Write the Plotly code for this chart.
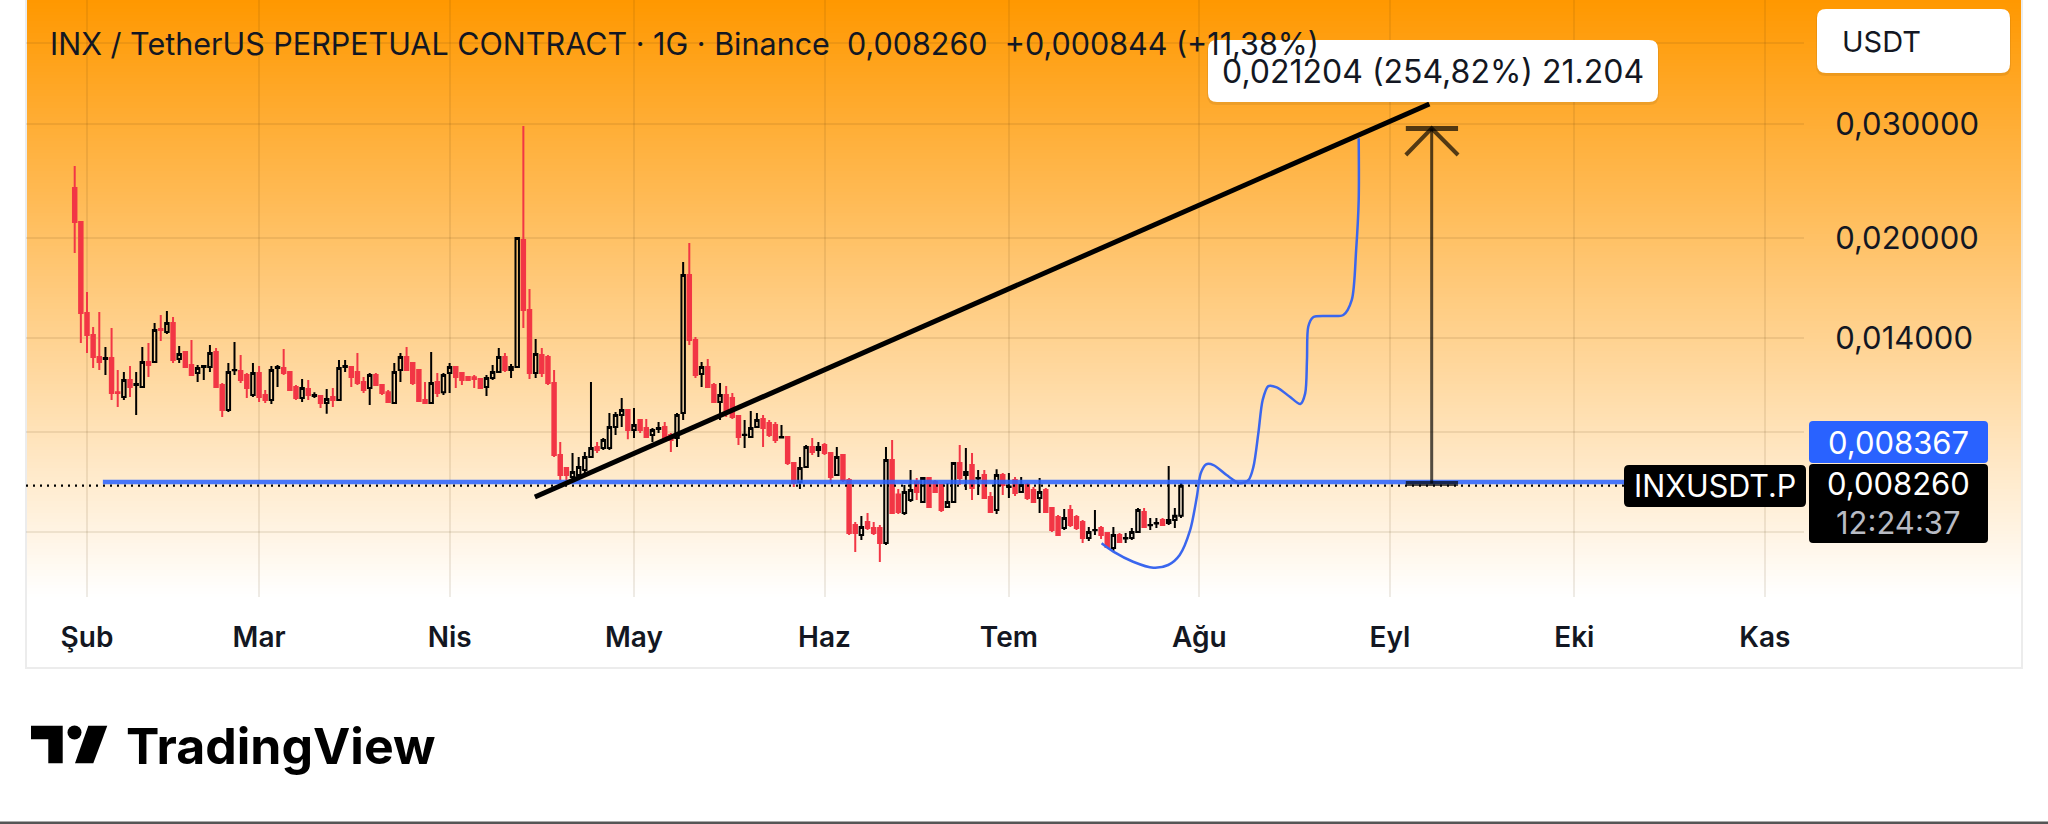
import plotly.graph_objects as go
import pandas as pd

W, H = 2048, 824

# ---------------- data ----------------
start_date = "2025-01-30"
opens = [0.02388, 0.02115, 0.01529, 0.01414, 0.01307, 0.01298, 0.01302, 0.01153, 0.01133, 0.01204,
         0.01183, 0.01174, 0.01284, 0.01284, 0.01444, 0.01429, 0.01475, 0.01298, 0.01330, 0.01270,
         0.01234, 0.01261, 0.01261, 0.01330, 0.01183, 0.01082, 0.01246, 0.01243, 0.01226, 0.01141,
         0.01234, 0.01141, 0.01121, 0.01257, 0.01257, 0.01239, 0.01174, 0.01129, 0.01166, 0.01137,
         0.01137, 0.01109, 0.01133, 0.01121, 0.01261, 0.01261, 0.01239, 0.01195, 0.01170, 0.01226,
         0.01183, 0.01153, 0.01109, 0.01248, 0.01307, 0.01279, 0.01248, 0.01121, 0.01109, 0.01195,
         0.01153, 0.01234, 0.01261, 0.01234, 0.01217, 0.01216, 0.01208, 0.01174, 0.01213, 0.01239,
         0.01307, 0.01248, 0.01261, 0.01984, 0.01545, 0.01234, 0.01316, 0.01307, 0.01191, 0.009213,
         0.008797, 0.008519, 0.008580, 0.008734, 0.009148, 0.009480, 0.009447, 0.009447, 0.010182, 0.010627,
         0.010818, 0.010073, 0.010439, 0.010146, 0.009895, 0.010110, 0.010182, 0.009895, 0.009790, 0.010703,
         0.017508, 0.013885, 0.012300, 0.012611, 0.011826, 0.011130, 0.011412, 0.011291, 0.010589, 0.009895,
         0.009825, 0.010182, 0.010477, 0.010328, 0.010254, 0.009808, 0.009825, 0.008955, 0.008368, 0.008828,
         0.009480, 0.009379, 0.009548, 0.009279, 0.008580, 0.009213, 0.008428, 0.007179, 0.006926, 0.007255,
         0.007102, 0.007102, 0.006732, 0.009051, 0.008000, 0.007492, 0.007847, 0.008368, 0.007791, 0.008488,
         0.008368, 0.008280, 0.007652, 0.007791, 0.008955, 0.008580, 0.008891, 0.008473, 0.008580, 0.007931,
         0.007572, 0.008580, 0.008222, 0.008428, 0.008074, 0.008280, 0.008132, 0.007903, 0.008132, 0.007626,
         0.007385, 0.007102, 0.007572, 0.007385, 0.007255, 0.006852, 0.007044, 0.007102, 0.006976, 0.006611,
         0.006926, 0.006840, 0.006852, 0.007001, 0.007518, 0.007170, 0.007217, 0.007307, 0.007229, 0.007307,
         0.007416]
highs = [0.02583, 0.02115, 0.01648, 0.01454, 0.01534, 0.01354, 0.01449, 0.01248, 0.01239, 0.01266,
         0.01239, 0.01354, 0.01374, 0.01475, 0.01518, 0.01540, 0.01507, 0.01359, 0.01330, 0.01389,
         0.01270, 0.01270, 0.01364, 0.01350, 0.01191, 0.01279, 0.01379, 0.01316, 0.01234, 0.01279,
         0.01266, 0.01162, 0.01266, 0.01270, 0.01345, 0.01239, 0.01183, 0.01208, 0.01204, 0.01153,
         0.01141, 0.01166, 0.01170, 0.01293, 0.01293, 0.01261, 0.01326, 0.01217, 0.01234, 0.01234,
         0.01187, 0.01162, 0.01279, 0.01326, 0.01354, 0.01284, 0.01248, 0.01195, 0.01330, 0.01234,
         0.01234, 0.01279, 0.01266, 0.01239, 0.01221, 0.01226, 0.01208, 0.01226, 0.01270, 0.01350,
         0.01326, 0.01275, 0.02005, 0.02979, 0.01666, 0.01394, 0.01350, 0.01316, 0.01248, 0.009651,
         0.008828, 0.009279, 0.009148, 0.009312, 0.01195, 0.009651, 0.009790, 0.010703, 0.010741, 0.011291,
         0.010818, 0.010895, 0.010477, 0.010477, 0.010146, 0.010365, 0.010365, 0.009966, 0.010703, 0.018339,
         0.019625, 0.014035, 0.012837, 0.012976, 0.011911, 0.011911, 0.011784, 0.011493, 0.010627, 0.010439,
         0.010779, 0.010703, 0.010627, 0.010439, 0.010365, 0.010254, 0.009860, 0.008987, 0.009148, 0.009548,
         0.009790, 0.009651, 0.009617, 0.009312, 0.009480, 0.009246, 0.008488, 0.007255, 0.007411, 0.007492,
         0.007255, 0.007179, 0.009480, 0.009720, 0.008161, 0.008280, 0.008734, 0.008488, 0.008519, 0.008519,
         0.008428, 0.008280, 0.008338, 0.008955, 0.009548, 0.009447, 0.009279, 0.008734, 0.008734, 0.008074,
         0.008760, 0.008641, 0.008641, 0.008519, 0.008519, 0.008338, 0.008222, 0.008488, 0.008192, 0.007652,
         0.007439, 0.007599, 0.007708, 0.007439, 0.007307, 0.007127, 0.007572, 0.007153, 0.007001, 0.007127,
         0.006976, 0.006976, 0.007102, 0.007626, 0.007626, 0.007359, 0.007359, 0.007359, 0.008859, 0.007626,
         0.008338]
lows = [0.01894, 0.01374, 0.01326, 0.01257, 0.01248, 0.01226, 0.01121, 0.01093, 0.01121, 0.01133,
        0.01063, 0.01174, 0.01217, 0.01284, 0.01384, 0.01419, 0.01279, 0.01279, 0.01257, 0.01226,
        0.01195, 0.01204, 0.01239, 0.01170, 0.01055, 0.01074, 0.01226, 0.01191, 0.01129, 0.01133,
        0.01113, 0.01109, 0.01105, 0.01174, 0.01226, 0.01158, 0.01121, 0.01113, 0.01121, 0.01129,
        0.01090, 0.01067, 0.01093, 0.01117, 0.01239, 0.01174, 0.01183, 0.01149, 0.01101, 0.01178,
        0.01141, 0.01109, 0.01105, 0.01195, 0.01243, 0.01183, 0.01113, 0.01105, 0.01105, 0.01133,
        0.01141, 0.01149, 0.01170, 0.01183, 0.01200, 0.01170, 0.01166, 0.01137, 0.01204, 0.01239,
        0.01239, 0.01213, 0.01257, 0.01449, 0.01208, 0.01213, 0.01217, 0.01183, 0.009148, 0.008428,
        0.008368, 0.008428, 0.008519, 0.008641, 0.009115, 0.009279, 0.009379, 0.009379, 0.009895, 0.010182,
        0.009750, 0.009790, 0.009966, 0.009790, 0.009651, 0.009966, 0.009685, 0.009312, 0.009480, 0.010439,
        0.013640, 0.012125, 0.011742, 0.011701, 0.011091, 0.010439, 0.010551, 0.010477, 0.009548, 0.009447,
        0.009790, 0.010146, 0.009480, 0.009825, 0.009617, 0.009790, 0.008891, 0.008222, 0.008161, 0.008797,
        0.009213, 0.009148, 0.009213, 0.008338, 0.008549, 0.008368, 0.006926, 0.006519, 0.006804, 0.007051,
        0.006926, 0.006291, 0.006684, 0.007465, 0.007465, 0.007439, 0.007791, 0.007847, 0.007764, 0.007652,
        0.008045, 0.007518, 0.007652, 0.007764, 0.008280, 0.008132, 0.007847, 0.007988, 0.007875, 0.007492,
        0.007465, 0.007988, 0.007903, 0.007960, 0.008045, 0.007847, 0.007764, 0.007492, 0.007492, 0.007001,
        0.006926, 0.007051, 0.007127, 0.007051, 0.006732, 0.006780, 0.006926, 0.006828, 0.006611, 0.006543,
        0.006732, 0.006732, 0.006804, 0.006976, 0.007127, 0.007051, 0.007102, 0.007153, 0.007179, 0.007102,
        0.007359]
closes = [0.02115, 0.01529, 0.01414, 0.01307, 0.01284, 0.01302, 0.01149, 0.01149, 0.01204, 0.01174,
          0.01187, 0.01284, 0.01270, 0.01439, 0.01439, 0.01475, 0.01293, 0.01321, 0.01261, 0.01226,
          0.01257, 0.01266, 0.01326, 0.01174, 0.01082, 0.01239, 0.01248, 0.01204, 0.01170, 0.01234,
          0.01133, 0.01121, 0.01248, 0.01261, 0.01234, 0.01162, 0.01129, 0.01170, 0.01141, 0.01141,
          0.01109, 0.01125, 0.01121, 0.01257, 0.01266, 0.01217, 0.01191, 0.01162, 0.01226, 0.01183,
          0.01149, 0.01113, 0.01239, 0.01307, 0.01248, 0.01191, 0.01117, 0.01109, 0.01191, 0.01149,
          0.01226, 0.01261, 0.01217, 0.01204, 0.01204, 0.01208, 0.01170, 0.01213, 0.01239, 0.01307,
          0.01248, 0.01261, 0.01998, 0.01545, 0.01234, 0.01321, 0.01234, 0.01191, 0.009213, 0.008580,
          0.008580, 0.008672, 0.008828, 0.009148, 0.009447, 0.009379, 0.009720, 0.010182, 0.010627, 0.010818,
          0.010073, 0.010254, 0.010073, 0.009825, 0.010073, 0.010146, 0.009720, 0.009720, 0.010627, 0.017508,
          0.013885, 0.012256, 0.012611, 0.011742, 0.011130, 0.011412, 0.010703, 0.010551, 0.009825, 0.009905,
          0.010146, 0.010439, 0.010146, 0.009895, 0.009720, 0.009825, 0.008955, 0.008338, 0.008797, 0.009480,
          0.009312, 0.009480, 0.009279, 0.008519, 0.009148, 0.008428, 0.006976, 0.006976, 0.007127, 0.007102,
          0.006976, 0.006732, 0.009051, 0.007492, 0.007520, 0.008074, 0.008132, 0.008074, 0.008488, 0.007652,
          0.008074, 0.007572, 0.007791, 0.008955, 0.008488, 0.008672, 0.008192, 0.008488, 0.007903, 0.007518,
          0.008580, 0.008280, 0.008237, 0.008045, 0.008280, 0.007903, 0.007791, 0.008074, 0.007518, 0.007051,
          0.006926, 0.007359, 0.007179, 0.007102, 0.006852, 0.007001, 0.007051, 0.006926, 0.006634, 0.006926,
          0.006756, 0.006852, 0.007001, 0.007572, 0.007127, 0.007179, 0.007229, 0.007179, 0.007307, 0.007416,
          0.008260]
dates = pd.date_range(start_date, periods=len(opens), freq="D")

month_ticks = ["2025-02-01", "2025-03-01", "2025-04-01", "2025-05-01", "2025-06-01",
               "2025-07-01", "2025-08-01", "2025-09-01", "2025-10-01", "2025-11-01"]
month_labels = ["Şub", "Mar", "Nis", "May", "Haz", "Tem", "Ağu", "Eyl", "Eki", "Kas"]

# 0,007 / 0,010 / 0,040 sit behind the price-scale label boxes, so only their grid lines show
price_ticks = [0.007, 0.010, 0.014, 0.020, 0.030, 0.040]
price_tick_labels = ["", "", "0,014000", "0,020000", "0,030000", ""]

x_range = ["2025-01-22 01:48", "2025-11-07 08:53"]
y_range_log10 = [-2.25549, -1.33083]

trend_x = ["2025-04-14 21:00", "2025-09-07 10:00"]
trend_y = [0.007932, 0.03222]

level_x = ["2025-02-03 14:00", "2025-10-10 00:00"]
level_y = [0.008367, 0.008367]

last_price = 0.00826
last_x = [x_range[0], "2025-10-10 00:00"]

path_x = ["2025-07-16 02:00", "2025-07-18 00:00", "2025-07-21 05:00", "2025-07-24 12:00",
          "2025-07-26 22:00", "2025-07-28 19:00", "2025-07-30 12:00", "2025-07-31 14:00",
          "2025-08-01 05:00", "2025-08-02 02:00", "2025-08-03 07:00", "2025-08-05 10:00",
          "2025-08-07 14:00", "2025-08-09 00:00", "2025-08-09 19:00", "2025-08-10 14:00",
          "2025-08-11 07:00", "2025-08-12 05:00", "2025-08-13 14:00", "2025-08-15 17:00",
          "2025-08-17 10:00", "2025-08-18 05:00", "2025-08-18 12:00", "2025-08-18 17:00",
          "2025-08-19 12:00", "2025-08-21 17:00", "2025-08-24 10:00", "2025-08-25 19:00",
          "2025-08-26 12:00", "2025-08-26 22:00", "2025-08-26 22:00"]
path_y = [0.006726, 0.006527, 0.006297, 0.006164, 0.006224, 0.006451, 0.007053, 0.00794,
          0.00863, 0.008913, 0.00889, 0.00858, 0.008329, 0.00843, 0.008838, 0.009954,
          0.01121, 0.01178, 0.01173, 0.01134, 0.01105, 0.01148, 0.01293, 0.01456,
          0.01506, 0.01513, 0.01518, 0.01602, 0.01914, 0.02288, 0.02851]

range_x = "2025-09-07 19:00"
range_lo = 0.008321
range_hi = 0.029525
range_bar_x = ["2025-09-03 14:00", "2025-09-12 02:00"]
arrow_wing_y = 0.02686

title_text = ("INX / TetherUS PERPETUAL CONTRACT · 1G · Binance\u00a0\u00a0"
              "0,008260\u00a0\u00a0+0,000844 (+11,38%)")
range_label = "0,021204 (254,82%) 21.204"

# ---------------- styling helpers ----------------
FONT = "Inter"
INK = "#131722"
RED = "#F23645"
BLUE = "#2962FF"


def px(x):
    return x / W


def py(y):
    return 1 - y / H


def rrect(x0, y0, x1, y1, r):
    def P(a, b):
        return f"{px(a):.6f},{py(b):.6f}"
    return (f"M{P(x0 + r, y0)} L{P(x1 - r, y0)} Q{P(x1, y0)} {P(x1, y0 + r)} "
            f"L{P(x1, y1 - r)} Q{P(x1, y1)} {P(x1 - r, y1)} L{P(x0 + r, y1)} "
            f"Q{P(x0, y1)} {P(x0, y1 - r)} L{P(x0, y0 + r)} Q{P(x0, y0)} {P(x0 + r, y0)} Z")


def poly(points):
    s = "M" + " L".join(f"{px(a):.6f},{py(b):.6f}" for a, b in points)
    return s + " Z"


fig = go.Figure()

fig.add_trace(go.Candlestick(
    x=dates, open=opens, high=highs, low=lows, close=closes,
    increasing=dict(line=dict(color="#000000", width=2), fillcolor="rgba(0,0,0,0)"),
    decreasing=dict(line=dict(color=RED, width=2), fillcolor=RED),
    whiskerwidth=0, showlegend=False, hoverinfo="skip",
))

fig.add_trace(go.Scatter(x=last_x, y=[last_price, last_price], mode="lines",
                         line=dict(color="#000000", width=2.2, dash="2px,5px"),
                         showlegend=False, hoverinfo="skip"))
fig.add_trace(go.Scatter(x=level_x, y=level_y, mode="lines",
                         line=dict(color=BLUE, width=4.5), opacity=0.85,
                         showlegend=False, hoverinfo="skip"))
fig.add_trace(go.Scatter(x=trend_x, y=trend_y, mode="lines",
                         line=dict(color="#000000", width=5),
                         showlegend=False, hoverinfo="skip"))
fig.add_trace(go.Scatter(x=path_x, y=path_y, mode="lines",
                         line=dict(color="#3A66EE", width=2.5, shape="spline", smoothing=0.8),
                         showlegend=False, hoverinfo="skip"))

ARW = "rgba(0,0,0,0.68)"
fig.add_trace(go.Scatter(x=[range_x, range_x], y=[range_lo, range_hi], mode="lines",
                         line=dict(color=ARW, width=3), showlegend=False, hoverinfo="skip"))
fig.add_trace(go.Scatter(x=range_bar_x, y=[range_hi, range_hi], mode="lines",
                         line=dict(color=ARW, width=5), showlegend=False, hoverinfo="skip"))
fig.add_trace(go.Scatter(x=range_bar_x, y=[range_lo, range_lo], mode="lines",
                         line=dict(color=ARW, width=5), showlegend=False, hoverinfo="skip"))
fig.add_trace(go.Scatter(x=[range_bar_x[0], range_x, range_bar_x[1]],
                         y=[arrow_wing_y, range_hi, arrow_wing_y], mode="lines",
                         line=dict(color=ARW, width=4), showlegend=False, hoverinfo="skip"))

shapes = []
# background gradient (orange -> white)
top_rgb = (255, 152, 0)
grad_bottom = 597
step = 3
for y0 in range(0, grad_bottom, step):
    t = (y0 + step / 2) / grad_bottom
    r = round(top_rgb[0] + (255 - top_rgb[0]) * t)
    g = round(top_rgb[1] + (255 - top_rgb[1]) * t)
    b = round(top_rgb[2] + (255 - top_rgb[2]) * t)
    shapes.append(dict(type="rect", xref="paper", yref="paper", layer="below",
                       x0=px(26), x1=px(2022), y0=py(min(y0 + step + 0.5, grad_bottom)), y1=py(y0),
                       fillcolor=f"rgb({r},{g},{b})", line=dict(width=0)))
# panel border
shapes.append(dict(type="rect", xref="paper", yref="paper", layer="below",
                   x0=px(26), x1=px(2022), y0=py(668), y1=py(-2),
                   fillcolor="rgba(0,0,0,0)", line=dict(color="#ECECEC", width=2)))
# bottom dark strip
shapes.append(dict(type="rect", xref="paper", yref="paper", layer="above",
                   x0=0, x1=1, y0=0, y1=py(821.5), fillcolor="#555555", line=dict(width=0)))

# white label boxes (with faint shadow)
for (x0, y0, x1, y1) in [(1208, 40, 1658, 102), (1817, 9, 2010, 73)]:
    shapes.append(dict(type="path", xref="paper", yref="paper", layer="above",
                       path=rrect(x0 - 1, y0 + 1, x1 + 1, y1 + 3, 10),
                       fillcolor="rgba(0,0,0,0.07)", line=dict(width=0)))
    shapes.append(dict(type="path", xref="paper", yref="paper", layer="above",
                       path=rrect(x0, y0, x1, y1, 9),
                       fillcolor="#FFFFFF", line=dict(width=0)))
# price-scale labels
shapes.append(dict(type="path", xref="paper", yref="paper", layer="above",
                   path=rrect(1809, 421, 1988, 463, 4), fillcolor=BLUE, line=dict(width=0)))
shapes.append(dict(type="path", xref="paper", yref="paper", layer="above",
                   path=rrect(1624, 465, 1806, 507, 5), fillcolor="#000000", line=dict(width=0)))
shapes.append(dict(type="path", xref="paper", yref="paper", layer="above",
                   path=rrect(1809, 464, 1988, 543, 4), fillcolor="#000000", line=dict(width=0)))

# TradingView logo
shapes.append(dict(type="path", xref="paper", yref="paper", layer="above",
                   path=poly([(31, 725.7), (62.7, 725.7), (62.7, 763.3), (48.3, 763.3),
                              (48.3, 739.3), (31, 739.3)]),
                   fillcolor="#000000", line=dict(width=0)))
shapes.append(dict(type="circle", xref="paper", yref="paper", layer="above",
                   x0=px(67.5), x1=px(81.5), y0=py(739.5), y1=py(725.5),
                   fillcolor="#000000", line=dict(width=0)))
shapes.append(dict(type="path", xref="paper", yref="paper", layer="above",
                   path=poly([(88.3, 725.7), (107.3, 725.7), (93.3, 763.3), (75, 763.3)]),
                   fillcolor="#000000", line=dict(width=0)))

annotations = [
    dict(text=range_label, x=px(1433), y=py(72), xanchor="center", yanchor="middle",
         font=dict(family=FONT, size=32, color=INK)),
    dict(text=title_text, x=px(48), y=py(43), xanchor="left", yanchor="middle",
         font=dict(family=FONT, size=30.5, color=INK)),
    dict(text="USDT", x=px(1840), y=py(41.5), xanchor="left", yanchor="middle",
         font=dict(family=FONT, size=29, color=INK)),
    dict(text="0,008367", x=px(1898.5), y=py(442), xanchor="center", yanchor="middle",
         font=dict(family=FONT, size=31, color="#FFFFFF")),
    dict(text="INXUSDT.P", x=px(1715), y=py(486), xanchor="center", yanchor="middle",
         font=dict(family=FONT, size=30.5, color="#FFFFFF")),
    dict(text="0,008260", x=px(1898.5), y=py(484), xanchor="center", yanchor="middle",
         font=dict(family=FONT, size=31, color="#FFFFFF")),
    dict(text="12:24:37", x=px(1898.5), y=py(522), xanchor="center", yanchor="middle",
         font=dict(family=FONT, size=31, color="#B8BBC4")),
    dict(text="TradingView", x=px(124), y=py(746), xanchor="left", yanchor="middle",
         font=dict(family=FONT, size=50, color="#000000", weight=700)),
]
for a in annotations:
    a.update(xref="paper", yref="paper", showarrow=False)

GRID = "rgba(90,60,10,0.10)"
fig.update_layout(
    width=W, height=H,
    margin=dict(l=0, r=0, t=0, b=0),
    paper_bgcolor="#FFFFFF", plot_bgcolor="rgba(0,0,0,0)",
    showlegend=False, hovermode=False,
    boxgap=0.25, boxgroupgap=0.25,
    font=dict(family=FONT, color=INK),
    shapes=shapes, annotations=annotations,
    xaxis=dict(domain=[px(26), px(1804)], type="date", range=x_range,
               tickmode="array", tickvals=month_ticks, ticktext=month_labels,
               showgrid=True, gridcolor=GRID, gridwidth=2, zeroline=False, showline=False,
               ticks="outside", ticklen=15, tickcolor="rgba(0,0,0,0)",
               tickfont=dict(family=FONT, size=28, color=INK, weight=600),
               rangeslider=dict(visible=False), fixedrange=True),
    yaxis=dict(domain=[1 - 597 / H, 1], type="log", range=y_range_log10, side="right",
               tickmode="array", tickvals=price_ticks, ticktext=price_tick_labels,
               showgrid=True, gridcolor=GRID, gridwidth=2, zeroline=False, showline=False,
               ticks="outside", ticklen=24, tickcolor="rgba(0,0,0,0)",
               tickfont=dict(family=FONT, size=31, color=INK), fixedrange=True),
)

fig.write_html("out.html", config={"displayModeBar": False, "staticPlot": True},
               post_script="document.body.style.margin='0';document.body.style.overflow='hidden';")
